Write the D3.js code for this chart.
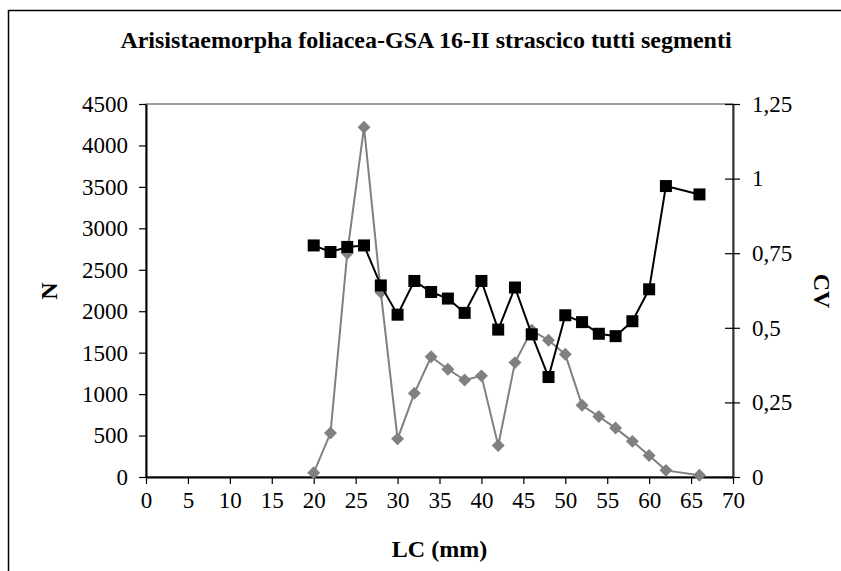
<!DOCTYPE html>
<html>
<head>
<meta charset="utf-8">
<script src="https://cdn.jsdelivr.net/npm/d3@7"></script>
<style>
  html, body { margin: 0; padding: 0; background: #fff; overflow: hidden; }
  svg { display: block; }
  text { font-family: "Liberation Serif", "Times New Roman", serif; fill: #000; }
</style>
</head>
<body>
<script>
// lunghezza carapace (mm)
const lcN = [20, 22, 24, 26, 28, 30, 32, 34, 36, 38, 40, 42, 44, 46, 48, 50, 52, 54, 56, 58, 60, 62, 66];
const nValues = [50, 530, 2700, 4220, 2230, 460, 1010, 1450, 1300, 1170, 1220, 380, 1380, 1770, 1650, 1480, 865, 730, 590, 430, 260, 80, 20];
const cvValues = [0.776, 0.754, 0.771, 0.776, 0.642, 0.544, 0.657, 0.62, 0.598, 0.55, 0.657, 0.494, 0.635, 0.478, 0.335, 0.542, 0.519, 0.48, 0.472, 0.522, 0.629, 0.975, 0.947];
const xTicks = d3.range(0, 71, 5);
const nTicks = d3.range(0, 4501, 500);
const cvTicks = [0, 0.25, 0.5, 0.75, 1, 1.25];
const cvLabels = ["0", "0,25", "0,5", "0,75", "1", "1,25"];

const width = 841;
const height = 571;
const plotLeft = 146;
const plotRight = 733;
const plotTop = 104;
const plotBottom = 477;

const svg = d3
  .select("body")
  .append("svg")
  .attr("width", width)
  .attr("height", height);

// cornice del grafico (solo lati visibili)
svg.append("path")
  .attr("d", "M8.5,600V10.5H900")
  .attr("fill", "none")
  .attr("stroke", "#000")
  .attr("stroke-width", 1.5);

const xScale = d3.scaleLinear().domain([0, 70]).range([plotLeft, plotRight]);
const yScale = d3.scaleLinear().domain([0, 4500]).range([plotBottom, plotTop]);
const cvScale = d3.scaleLinear().domain([0, 1.25]).range([plotBottom, plotTop]);

// bordo area del grafico
svg.append("rect")
  .attr("x", plotLeft)
  .attr("y", plotTop)
  .attr("width", plotRight - plotLeft)
  .attr("height", plotBottom - plotTop)
  .attr("fill", "none")
  .attr("stroke", "#808080")
  .attr("stroke-width", 1.5);

// asse x
const xAxis = d3.axisBottom(xScale)
  .tickValues(xTicks)
  .tickFormat(d3.format("d"))
  .tickSize(7)
  .tickSizeOuter(0)
  .tickPadding(8);

svg.append("g")
  .attr("transform", `translate(0, ${plotBottom})`)
  .attr("class", "xax")
  .call(xAxis);

// asse y sinistro
const yAxis = d3.axisLeft(yScale)
  .tickValues(nTicks)
  .tickFormat(d3.format("d"))
  .tickSize(7)
  .tickSizeOuter(0)
  .tickPadding(11);

svg.append("g")
  .attr("transform", `translate(${plotLeft}, 0)`)
  .attr("class", "yax")
  .call(yAxis);

// asse y destro (CV)
const cvAxis = d3.axisRight(cvScale)
  .tickValues(cvTicks)
  .tickFormat(function(d, i) { return cvLabels[i]; })
  .tickSize(7)
  .tickSizeOuter(0)
  .tickPadding(12);

const cvG = svg.append("g")
  .attr("transform", `translate(${plotRight}, 0)`)
  .attr("class", "cvax")
  .call(cvAxis);

// tacche che attraversano l'asse
cvG.selectAll(".tick line").attr("x1", -8);

svg.selectAll(".domain").attr("stroke", "#000").attr("stroke-width", 2);
cvG.select(".domain").attr("stroke", "#333");
svg.selectAll(".tick line").attr("stroke", "#000").attr("stroke-width", 1.2);
svg.selectAll(".tick text")
  .style("font-family", '"Liberation Serif", serif')
  .style("font-size", "23px");

// serie N
const lineN = d3.line()
  .x(function(d, i) { return xScale(lcN[i]); })
  .y(function(d) { return yScale(d); });

svg.append("path")
  .datum(nValues)
  .attr("d", lineN)
  .attr("fill", "none")
  .attr("stroke", "#808080")
  .attr("stroke-width", 2);

svg.append("g")
  .selectAll("path")
  .data(nValues)
  .enter()
  .append("path")
  .attr("d", d3.symbol().type(d3.symbolSquare).size(84))
  .attr("transform", function(d, i) {
    return `translate(${xScale(lcN[i])}, ${yScale(d)}) rotate(45)`;
  })
  .attr("fill", "#808080");

// serie CV
const lineCV = d3.line()
  .x(function(d, i) { return xScale(lcN[i]); })
  .y(function(d) { return cvScale(d); });

svg.append("path")
  .datum(cvValues)
  .attr("d", lineCV)
  .attr("fill", "none")
  .attr("stroke", "#000")
  .attr("stroke-width", 2);

svg.append("g")
  .selectAll("rect")
  .data(cvValues)
  .enter()
  .append("rect")
  .attr("x", function(d, i) { return xScale(lcN[i]) - 6; })
  .attr("y", function(d) { return cvScale(d) - 6; })
  .attr("width", 12)
  .attr("height", 12)
  .attr("fill", "#000");

// titoli
svg.append("text")
  .attr("x", 426)
  .attr("y", 48)
  .attr("text-anchor", "middle")
  .style("font-size", "24px")
  .style("font-weight", "bold")
  .text("Arisistaemorpha foliacea-GSA 16-II strascico tutti segmenti");

svg.append("text")
  .attr("x", (plotLeft + plotRight) / 2)
  .attr("y", 557)
  .attr("text-anchor", "middle")
  .style("font-size", "24px")
  .style("font-weight", "bold")
  .text("LC (mm)");

svg.append("text")
  .attr("transform", `translate(57, 291) rotate(-90)`)
  .attr("text-anchor", "middle")
  .style("font-size", "24px")
  .style("font-weight", "bold")
  .text("N");

svg.append("text")
  .attr("transform", `translate(814, 291) rotate(90)`)
  .attr("text-anchor", "middle")
  .style("font-size", "24px")
  .style("font-weight", "bold")
  .text("CV");
</script>
</body>
</html>
